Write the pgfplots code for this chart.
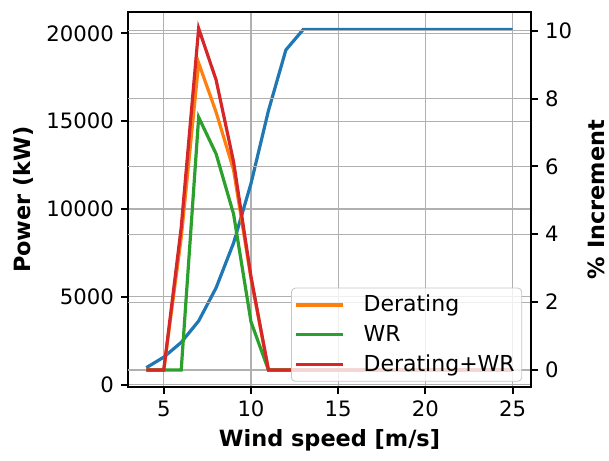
\documentclass[border=0pt]{standalone}
\usepackage{fontspec}
\setmainfont{DejaVu Sans}
\usepackage{pgfplots}
\pgfplotsset{compat=1.18}

\definecolor{tblue}{HTML}{1F77B4}
\definecolor{torange}{HTML}{FF7F0E}
\definecolor{tgreen}{HTML}{2CA02C}
\definecolor{tred}{HTML}{D62728}
\definecolor{gridgray}{HTML}{B0B0B0}

\pgfplotsset{
  common/.style={
    scale only axis, width=201.5pt, height=187.5pt,
    xmin=2.95, xmax=26.05,
    axis line style={line width=1.2pt},
    tick align=outside,
    major tick length=3.5pt,
    every tick/.style={black, line width=1pt},
    tick label style={font=\fontsize{10.6}{12}\selectfont},
    label style={font=\fontsize{11.2}{13}\selectfont\bfseries},
    /pgf/number format/assume math mode=true,
    /pgf/number format/set thousands separator={},
    grid style={gridgray, line width=0.6pt},
    every axis plot/.append style={line width=1.6pt},
  },
}

\begin{document}
\begin{tikzpicture}
\begin{axis}[common, name=main,
    ymin=-141, ymax=21221,
    xtick={5,10,15,20,25},
    ytick={0,5000,10000,15000,20000},
    xtick pos=bottom, ytick pos=left,
    xmajorgrids, ymajorgrids,
    scaled y ticks=false,
    xlabel={Wind speed [m/s]},
    ylabel={Power (kW)},
    xlabel style={at={(axis description cs:0.5,-0.143)}, anchor=center},
    ylabel style={at={(axis description cs:-0.26,0.5)}, anchor=center, rotate=0},
]
\addplot[tblue] coordinates {
(4,960) (5,1560) (6,2400) (7,3620) (8,5510) (9,8060) (10,11450) (11,15600) (12,19060)
(13,20230) (14,20230) (15,20230) (16,20230) (17,20230) (18,20230) (19,20230) (20,20230)
(21,20230) (22,20230) (23,20230) (24,20230) (25,20230)
};
\end{axis}
\begin{axis}[common,
    at={(main.south west)}, anchor=south west,
    ymin=-0.5025, ymax=10.5525,
    ytick={0,2,4,6,8,10},
    axis x line=none,
    axis y line*=right,
    ymajorgrids,
    ylabel={\% Increment},
    ylabel style={at={(axis description cs:1.161,0.5)}, anchor=center},
    legend cell align=left,
    legend style={at={(axis description cs:0.978,0.014)}, anchor=south east,
      draw=gray!45, rounded corners=2pt, fill=white, fill opacity=0.8, text opacity=1,
      font=\fontsize{11}{13}\selectfont, row sep=1.2pt, inner xsep=1.5pt, inner ysep=1.5pt},
    legend image code/.code={\draw[#1, line width=1.6pt] (0pt,0pt) -- (23.5pt,0pt);
      \path (31pt,0pt);},
]
\addplot[torange] coordinates {
(4,0) (5,0) (6,3.9) (7,9.05) (8,7.6) (9,5.9) (10,2.7) (11,0) (12,0) (13,0) (14,0) (15,0)
(16,0) (17,0) (18,0) (19,0) (20,0) (21,0) (22,0) (23,0) (24,0) (25,0)
};
\addlegendentry{Derating}
\addplot[tgreen] coordinates {
(4,0) (5,0) (6,0) (7,7.45) (8,6.37) (9,4.6) (10,1.42) (11,0) (12,0) (13,0) (14,0) (15,0)
(16,0) (17,0) (18,0) (19,0) (20,0) (21,0) (22,0) (23,0) (24,0) (25,0)
};
\addlegendentry{WR}
\addplot[tred] coordinates {
(4,0) (5,0) (6,4.2) (7,10.07) (8,8.55) (9,6.14) (10,2.75) (11,0) (12,0) (13,0) (14,0) (15,0)
(16,0) (17,0) (18,0) (19,0) (20,0) (21,0) (22,0) (23,0) (24,0) (25,0)
};
\addlegendentry{Derating+WR}
\end{axis}
\pgfresetboundingbox
\path ([xshift=-64pt,yshift=-36.5pt]main.south west) rectangle ([xshift=39pt,yshift=6pt]main.north east);
\end{tikzpicture}
\end{document}
